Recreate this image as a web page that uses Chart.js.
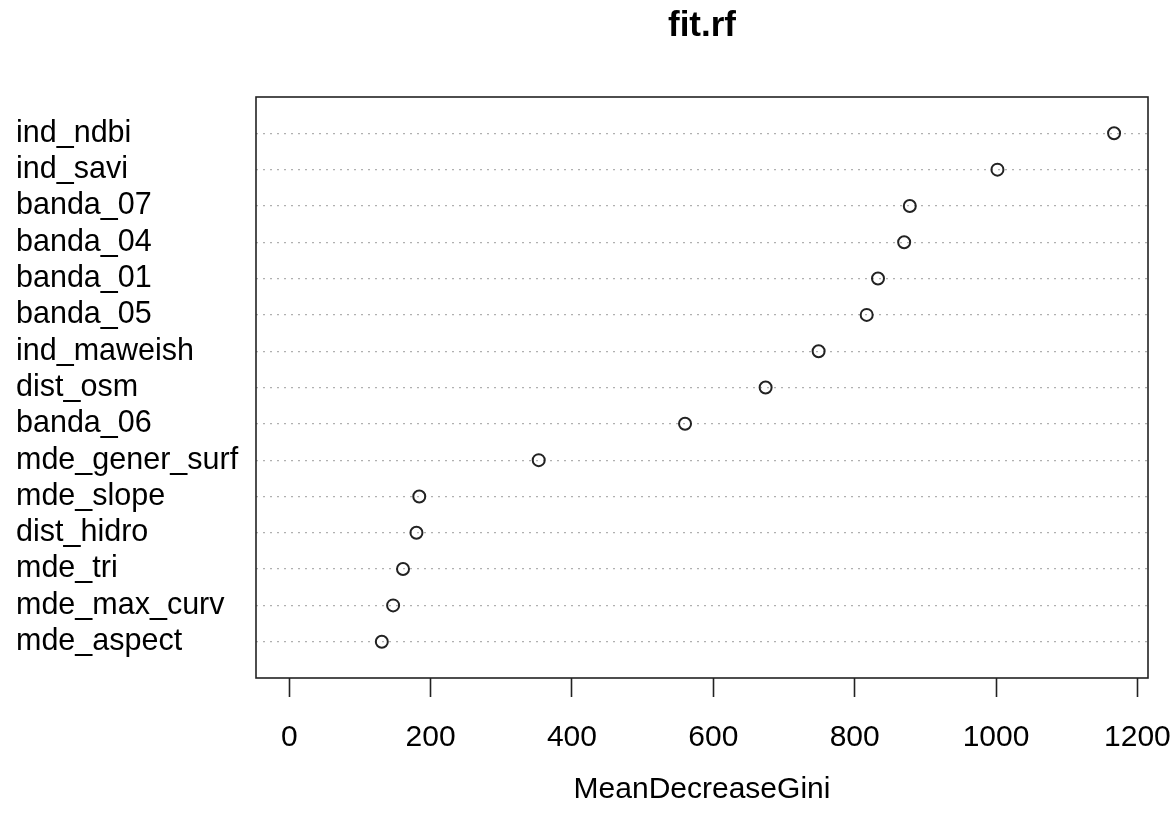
<!DOCTYPE html>
<html>
<head>
<meta charset="utf-8">
<script src="https://cdn.jsdelivr.net/npm/chart.js@4.4.1/dist/chart.umd.min.js"></script>
<style>
html,body{margin:0;padding:0;background:#fff;}
#c{display:block;}
</style>
</head>
<body>
<canvas id="c" width="1176" height="823"></canvas>
<script>
// Variables, top to bottom
const categories = ["ind_ndbi","ind_savi","banda_07","banda_04","banda_01","banda_05","ind_maweish","dist_osm","banda_06","mde_gener_surf","mde_slope","dist_hidro","mde_tri","mde_max_curv","mde_aspect"];
const meanDecreaseGini = [1167,1002,878,870,833,817,749,674,560,353,184,180,161,147,131];
const xTickValues = [0,200,400,600,800,1000,1200];
const chartTitle = "fit.rf";
const xAxisTitle = "MeanDecreaseGini";

const n = categories.length;
const points = meanDecreaseGini.map((v,i)=>({x:v, y:n - i}));
const FONT = "'Liberation Sans', Arial, Helvetica, sans-serif";
Chart.defaults.font.family = FONT;
Chart.defaults.color = '#000';

const boxPlugin = {
  id:'box',
  afterDraw(chart){
    const a = chart.chartArea, ctx = chart.ctx;
    ctx.save();
    ctx.strokeStyle = '#222';
    ctx.lineWidth = 1.6;
    ctx.setLineDash([]);
    ctx.strokeRect(a.left, a.top, a.right - a.left, a.bottom - a.top);
    // main title centred over the plot region
    ctx.fillStyle = '#000';
    ctx.font = "bold 35px " + FONT;
    ctx.textAlign = 'center';
    ctx.textBaseline = 'alphabetic';
    ctx.fillText(chartTitle, (a.left + a.right) / 2, 36);
    ctx.restore();
  }
};

new Chart(document.getElementById('c'), {
  type:'scatter',
  data:{datasets:[{
    data: points,
    pointRadius:6,
    pointHoverRadius:6,
    pointBorderWidth:2,
    pointBorderColor:'#222',
    pointBackgroundColor:'rgba(0,0,0,0)',
    showLine:false
  }]},
  options:{
    responsive:false,
    animation:false,
    devicePixelRatio:1,
    layout:{padding:{left:16, right:28, top:97, bottom:0}},
    plugins:{
      legend:{display:false},
      tooltip:{enabled:false},
      title:{display:false}
    },
    scales:{
      x:{
        type:'linear',
        min:-47,
        max:1215,
        afterBuildTicks(scale){ scale.ticks = xTickValues.map(v=>({value:v})); },
        afterFit(scale){ scale.height = 145; scale.paddingLeft = 0; scale.paddingRight = 0; },
        ticks:{font:{size:30}, color:'#000', padding:23, maxRotation:0, autoSkip:false,
               callback:(v)=>String(v)},
        grid:{drawOnChartArea:false, drawTicks:true, tickLength:19, tickColor:'#222', tickWidth:1.6, color:'#222'},
        border:{display:false},
        title:{display:true, text:xAxisTitle, color:'#000', font:{size:30}, padding:{top:0, bottom:15}}
      },
      y:{
        type:'linear',
        min:0,
        max:n+1,
        afterBuildTicks(scale){
          const t=[]; for(let v=0; v<=n+1; v++) t.push({value:v}); scale.ticks=t;
        },
        afterFit(scale){ scale.width = 240; scale.paddingTop = 0; scale.paddingBottom = 0; },
        ticks:{
          font:{size:30.5}, color:'#000', autoSkip:false, crossAlign:'far', padding:0,
          callback:(v)=> (v>=1 && v<=n) ? categories[n - v] : ''
        },
        grid:{
          drawTicks:false,
          lineWidth:1.2,
          color:(ctx)=> (ctx.tick && (ctx.tick.value===0 || ctx.tick.value===n+1)) ? 'rgba(0,0,0,0)' : '#b0b0b0'
        },
        border:{display:false, dash:[2,5]}
      }
    }
  },
  plugins:[boxPlugin]
});
</script>
</body>
</html>
